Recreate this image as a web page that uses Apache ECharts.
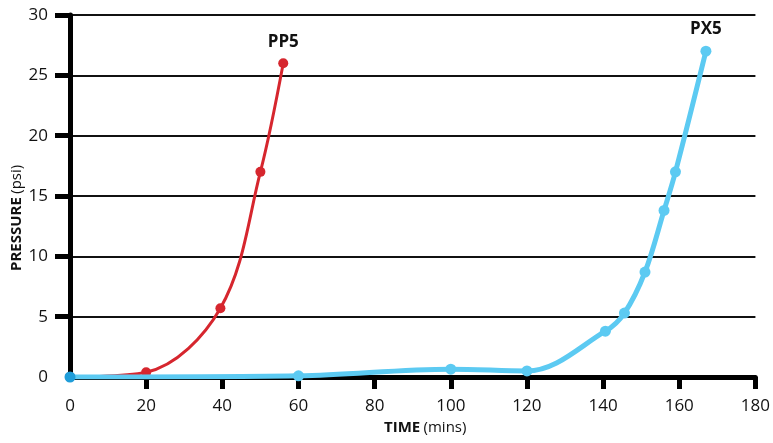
<!DOCTYPE html>
<html>
<head>
<meta charset="utf-8">
<script src="https://cdn.jsdelivr.net/npm/echarts@6/dist/echarts.min.js"></script>
<style>
html,body{margin:0;padding:0;background:#fff;}
#c{width:773px;height:443px;}
</style>
</head>
<body>
<div id="c"></div>
<script>
// Data
const seriesNames = ['PP5', 'PX5'];
const pp5Time = [0, 20, 39.5, 50, 56];
const pp5Pressure = [0, 0.4, 5.7, 17, 26];
const px5Time = [0, 60, 100, 120, 140.6, 145.6, 151, 156, 159, 167];
const px5Pressure = [0, 0.1, 0.65, 0.5, 3.8, 5.3, 8.7, 13.8, 17, 27];
const xTicks = [0, 20, 40, 60, 80, 100, 120, 140, 160, 180];
const yTicks = [0, 5, 10, 15, 20, 25, 30];

const FONT = "'Open Sans', 'DejaVu Sans', sans-serif";
const RED = '#d6262e';
const BLUE = '#5ccaf2';
const BLUE_DARK = '#1f9dd9';

function pairs(xs, ys) { return xs.map((x, i) => [x, ys[i]]); }

const chart = echarts.init(document.getElementById('c'), null, {renderer: 'canvas'});

const pp5Data = pairs(pp5Time, pp5Pressure);
const px5Data = pairs(px5Time, px5Pressure).map((d, i) =>
  i === 0 ? {value: d, itemStyle: {color: BLUE_DARK}} : d);

function endLabel(name, n) {
  return {
    show: true,
    position: 'top',
    distance: 8,
    fontFamily: FONT,
    fontWeight: 'bold',
    fontSize: 17,
    color: '#111',
    formatter: p => (p.dataIndex === n - 1 ? name : '')
  };
}

chart.setOption({
  animation: false,
  backgroundColor: '#fff',
  grid: {left: 70, right: 15, top: 15, bottom: 66},
  xAxis: {
    type: 'value',
    min: xTicks[0],
    max: xTicks[xTicks.length - 1],
    interval: 20,
    axisLine: {show: true, onZero: false, lineStyle: {color: '#000', width: 5}},
    axisTick: {show: true, length: 12, lineStyle: {color: '#000', width: 5},
               customValues: xTicks.filter(v => v > 0)},
    axisLabel: {color: '#111', fontFamily: FONT, fontSize: 17, margin: 21},
    splitLine: {show: false}
  },
  yAxis: {
    type: 'value',
    min: yTicks[0],
    max: yTicks[yTicks.length - 1],
    interval: 5,
    axisLine: {show: true, onZero: false, lineStyle: {color: '#000', width: 5}},
    axisTick: {show: true, length: 15, lineStyle: {color: '#000', width: 5},
               customValues: yTicks.filter(v => v > 0)},
    axisLabel: {color: '#111', fontFamily: FONT, fontSize: 17, margin: 22},
    splitLine: {show: true, lineStyle: {color: '#111', width: 2}}
  },
  graphic: [
    {
      type: 'text',
      x: 9, y: 271,
      rotation: Math.PI / 2,
      style: {
        text: '{b|PRESSURE} {n|(psi)}',
        rich: {
          b: {fontFamily: FONT, fontWeight: 'bold', fontSize: 15, fill: '#111'},
          n: {fontFamily: FONT, fontSize: 15, fill: '#111'}
        }
      }
    },
    {
      type: 'text',
      x: 384, y: 420,
      style: {
        text: '{b|TIME} {n|(mins)}',
        rich: {
          b: {fontFamily: FONT, fontWeight: 'bold', fontSize: 15, fill: '#111'},
          n: {fontFamily: FONT, fontSize: 15, fill: '#111'}
        }
      }
    }
  ],
  series: [
    {
      name: seriesNames[0],
      type: 'line',
      data: pp5Data,
      smooth: 0.35,
      symbol: 'circle',
      symbolSize: 10,
      lineStyle: {color: RED, width: 3},
      itemStyle: {color: RED},
      label: endLabel(seriesNames[0], pp5Data.length),
      z: 2
    },
    {
      name: seriesNames[1],
      type: 'line',
      data: px5Data,
      smooth: 0.35,
      symbol: 'circle',
      symbolSize: 11,
      lineStyle: {color: BLUE, width: 5},
      itemStyle: {color: BLUE},
      label: endLabel(seriesNames[1], px5Data.length),
      z: 3
    }
  ]
});
</script>
</body>
</html>
